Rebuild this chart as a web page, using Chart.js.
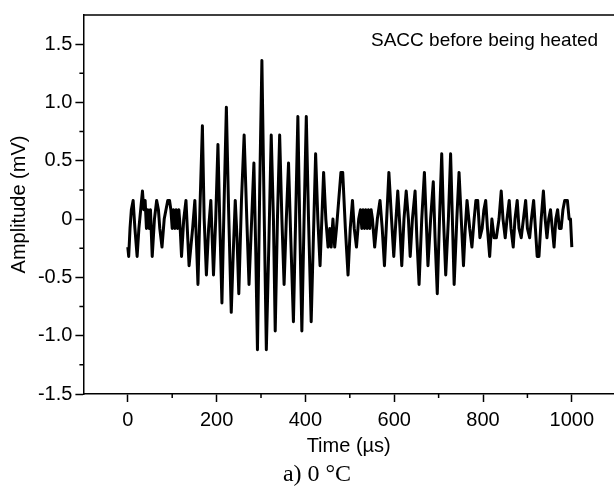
<!DOCTYPE html>
<html>
<head>
<meta charset="utf-8">
<script src="https://cdn.jsdelivr.net/npm/chart.js@4.4.1/dist/chart.umd.min.js"></script>
<style>
  html, body { margin: 0; padding: 0; background: #fff; overflow: hidden; }
  #wrap { position: relative; width: 614px; height: 488px; }
  #note { position: absolute; left: 371px; top: 29px; line-height: 22px;
          font-family: "Liberation Sans", Arial, sans-serif; font-size: 19px; color: #000; }
  #caption { position: absolute; left: 10px; width: 614px; top: 461px; line-height: 24px; text-align: center;
             font-family: "Liberation Serif", "Times New Roman", serif; font-size: 24px; color: #000; }
</style>
</head>
<body>
<div id="wrap">
  <canvas id="chart" width="614" height="488"></canvas>
  <div id="note">SACC before being heated</div>
  <div id="caption">a) 0 °C</div>
</div>
<script>
// waveform (time in µs, amplitude in mV)
const times = [
  0, 2, 5, 8, 12, 16, 21, 25, 29, 33,
  36, 39, 42, 45, 48, 51, 55, 60, 65, 69,
  72, 77, 82, 86, 90, 94, 97, 100, 103, 106,
  109, 112, 115, 118, 121, 126, 131, 135, 138, 142,
  146, 151, 155, 158, 163, 168, 172, 177, 182, 187,
  190, 193, 198, 203, 207, 212, 217, 222, 227, 233,
  238, 242, 246, 250, 256, 262, 268, 273, 279, 284,
  288, 292, 297, 302, 307, 312, 318, 323, 328, 332,
  337, 342, 347, 352, 357, 362, 367, 373, 378, 383,
  387, 392, 397, 402, 407, 413, 418, 423, 428, 433,
  437, 441, 446, 451, 455, 458, 462, 466, 470, 475,
  480, 484, 490, 496, 501, 506, 510, 515, 520, 524,
  527, 530, 533, 536, 539, 542, 545, 548, 551, 556,
  562, 568, 573, 578, 583, 588, 594, 599, 604, 608,
  613, 617, 622, 627, 632, 636, 641, 647, 651, 656,
  662, 668, 672, 676, 682, 688, 692, 697, 702, 707,
  711, 716, 722, 727, 731, 735, 741, 746, 751, 756,
  760, 764, 770, 775, 780, 784, 788, 793, 798, 802,
  806, 810, 815, 820, 825, 830, 836, 841, 845, 850,
  854, 859, 863, 868, 872, 877, 881, 886, 891, 896,
  900, 905, 909, 914, 918, 922, 926, 931, 936, 940,
  944, 948, 952, 956, 960, 964, 968, 972, 976, 980,
  984, 990, 994, 997, 1000
];
const amplitude = [
  -0.24, -0.32, -0.08, 0.08, 0.16, -0.08, -0.32, -0.08, 0.08, 0.24,
  0.08, 0.16, -0.08, 0.08, -0.08, 0.08, -0.32, 0, 0.16, 0.08,
  -0.08, -0.24, 0, 0.08, 0.16, 0.16, 0.08, -0.08, 0.08, -0.08,
  0.08, -0.08, 0.08, -0.08, -0.32, 0, 0.16, -0.16, -0.4, -0.24,
  -0.08, 0.16, -0.24, -0.56, 0.16, 0.8, 0, -0.48, -0.08, 0.16,
  -0.16, -0.48, 0, 0.64, 0, -0.72, 0.16, 0.96, 0.08, -0.8,
  -0.24, 0.16, -0.16, -0.64, 0.16, 0.72, 0, -0.56, 0, 0.48,
  -0.24, -1.12, 0.24, 1.36, 0.08, -1.12, -0.16, 0.72, 0, -0.96,
  0, 0.72, 0, -0.56, 0, 0.48, -0.16, -0.88, 0, 0.88,
  0, -0.96, 0, 0.88, 0, -0.88, -0.16, 0.56, 0, -0.4,
  0, 0.4, 0, -0.24, -0.08, -0.24, 0, -0.24, -0.08, 0.16,
  0.4, 0.4, -0.08, -0.48, -0.08, 0.16, -0.08, -0.24, 0, 0.08,
  -0.08, 0.08, -0.08, 0.08, -0.08, 0.08, -0.08, 0.08, 0, -0.24,
  0, 0.16, -0.08, -0.4, 0, 0.4, 0, -0.32, 0, 0.24,
  -0.08, -0.4, 0, 0.24, 0, -0.32, 0, 0.24, -0.16, -0.56,
  0, 0.4, 0, -0.4, 0, 0.32, -0.16, -0.64, 0, 0.56,
  0, -0.48, 0, 0.56, 0, -0.56, 0, 0.4, 0, -0.4,
  -0.08, 0.16, -0.08, -0.24, 0, 0.16, 0.16, -0.16, -0.08, 0.08,
  0.16, -0.08, -0.32, 0, -0.16, -0.16, 0, 0.24, 0, -0.16,
  0, 0.16, -0.08, -0.24, 0, 0.16, -0.08, -0.16, 0, 0.16,
  -0.08, -0.16, 0, 0.16, -0.08, -0.32, -0.32, 0, 0.24, 0,
  -0.16, 0, 0.08, -0.08, -0.24, 0, 0.08, -0.08, -0.08, 0.08,
  0.16, 0.16, 0, 0, -0.24
];

const xTicks = [0, 200, 400, 600, 800, 1000];
const xMinor = [100, 300, 500, 700, 900];
const yTicks = [-1.5, -1.0, -0.5, 0, 0.5, 1.0, 1.5];
const yLabels = ['-1.5', '-1.0', '-0.5', '0', '0.5', '1.0', '1.5'];
const yMinor = [-1.25, -0.75, -0.25, 0.25, 0.75, 1.25];

const font = { family: '"Liberation Sans", Arial, sans-serif', size: 20 };

// top frame line + short minor ticks
const frameTicks = {
  id: 'frameTicks',
  afterDraw(chart) {
    const { ctx, chartArea, scales } = chart;
    ctx.save();
    ctx.strokeStyle = '#000';
    ctx.lineWidth = 1.5;
    ctx.beginPath();
    ctx.moveTo(chartArea.left, chartArea.top);
    ctx.lineTo(chartArea.right, chartArea.top);
    xMinor.forEach(v => {
      const px = scales.x.getPixelForValue(v);
      ctx.moveTo(px, chartArea.bottom);
      ctx.lineTo(px, chartArea.bottom + 4);
    });
    yMinor.forEach(v => {
      const py = scales.y.getPixelForValue(v);
      ctx.moveTo(chartArea.left, py);
      ctx.lineTo(chartArea.left - 4, py);
    });
    ctx.stroke();
    ctx.restore();
  }
};

const ctx = document.getElementById('chart').getContext('2d');
new Chart(ctx, {
  type: 'line',
  data: {
    datasets: [{
      data: times.map((t, i) => ({ x: t, y: amplitude[i] })),
      borderColor: '#000',
      borderWidth: 3,
      pointRadius: 0,
      tension: 0,
      borderJoinStyle: 'round'
    }]
  },
  options: {
    responsive: false,
    animation: false,
    layout: { padding: { top: 13, right: 0, bottom: 30, left: 0 } },
    plugins: { legend: { display: false }, tooltip: { enabled: false } },
    scales: {
      x: {
        type: 'linear',
        min: -100,
        max: 1095,
        afterBuildTicks: s => { s.ticks = xTicks.map(v => ({ value: v })); },
        afterFit: s => { s.height = 64; },
        ticks: { color: '#000', font: font, padding: 6, maxRotation: 0,
                 callback: v => String(v) },
        grid: { drawOnChartArea: false, tickLength: 8, tickWidth: 1.5, color: '#000' },
        border: { display: true, color: '#000', width: 1.5 },
        title: { display: true, text: 'Time (µs)', color: '#000', font: font,
                 padding: { top: 3, bottom: 0 } }
      },
      y: {
        min: -1.5,
        max: 1.75,
        afterBuildTicks: s => { s.ticks = yTicks.map(v => ({ value: v })); },
        afterFit: s => { s.width = 83.4; },
        ticks: { color: '#000', font: font, padding: 3,
                 callback: (v, i) => yLabels[i] },
        grid: { drawOnChartArea: false, tickLength: 8, tickWidth: 1.5, color: '#000' },
        border: { display: true, color: '#000', width: 1.5 },
        title: { display: true, text: 'Amplitude (mV)', color: '#000', font: font,
                 padding: { top: 7.6, bottom: 0 } }
      }
    }
  },
  plugins: [frameTicks]
});
</script>
</body>
</html>
